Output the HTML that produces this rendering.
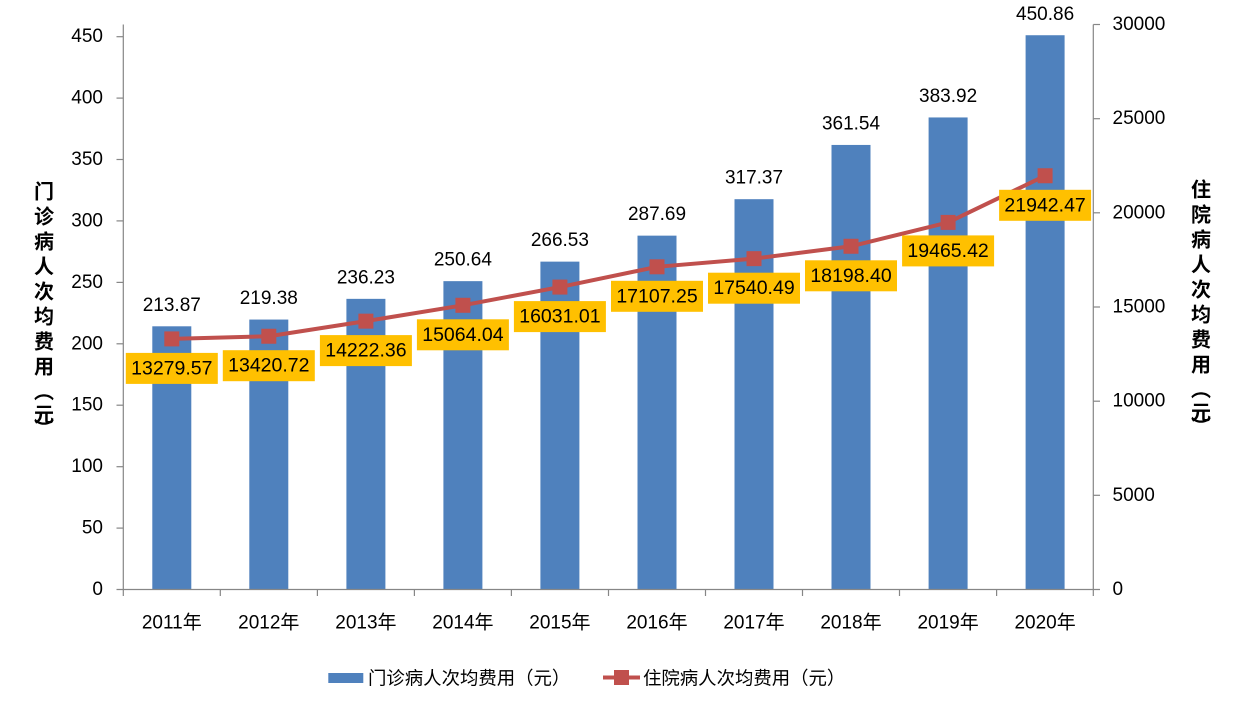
<!DOCTYPE html>
<html>
<head>
<meta charset="utf-8">
<style>
html,body{margin:0;padding:0;background:#fff;}
svg{display:block;}
.num{font-family:"Liberation Sans","Noto Sans CJK SC",sans-serif;font-size:19px;fill:#000;}
.cjk{font-family:"Liberation Sans","Noto Sans CJK SC",sans-serif;}
.ttl{font-family:"Noto Sans CJK SC","WenQuanYi Zen Hei",sans-serif;font-size:20px;font-weight:bold;fill:#000;}
.leg{font-family:"Noto Sans CJK SC","WenQuanYi Zen Hei",sans-serif;font-size:18.4px;fill:#000;}
</style>
</head>
<body>
<svg width="1242" height="711" viewBox="0 0 1242 711" xmlns="http://www.w3.org/2000/svg">
<rect width="1242" height="711" fill="#fff"/>

<!-- Bars -->
<g fill="#4F81BD">
<rect x="152.3" y="326.3" width="39" height="263.2"/>
<rect x="249.3" y="319.55" width="39" height="269.95"/>
<rect x="346.4" y="298.85" width="39" height="290.65"/>
<rect x="443.4" y="281.15" width="39" height="308.35"/>
<rect x="540.4" y="261.63" width="39" height="327.87"/>
<rect x="637.5" y="235.64" width="39" height="353.86"/>
<rect x="734.5" y="199.19" width="39" height="390.31"/>
<rect x="831.5" y="144.94" width="39" height="444.56"/>
<rect x="928.6" y="117.45" width="39" height="472.05"/>
<rect x="1025.6" y="35.23" width="39" height="554.27"/>
</g>

<!-- Axes -->
<g stroke="#868686" stroke-width="1.2" fill="none">
<line x1="123.3" y1="24.5" x2="123.3" y2="589.5"/>
<line x1="1093.3" y1="24.5" x2="1093.3" y2="589.5"/>
<line x1="116.5" y1="589.5" x2="1100" y2="589.5"/>
<line x1="116.5" y1="528.1" x2="123.3" y2="528.1"/>
<line x1="116.5" y1="466.7" x2="123.3" y2="466.7"/>
<line x1="116.5" y1="405.2" x2="123.3" y2="405.2"/>
<line x1="116.5" y1="343.8" x2="123.3" y2="343.8"/>
<line x1="116.5" y1="282.4" x2="123.3" y2="282.4"/>
<line x1="116.5" y1="220.9" x2="123.3" y2="220.9"/>
<line x1="116.5" y1="159.5" x2="123.3" y2="159.5"/>
<line x1="116.5" y1="98.1" x2="123.3" y2="98.1"/>
<line x1="116.5" y1="36.7" x2="123.3" y2="36.7"/>
<line x1="1093.3" y1="495.3" x2="1100" y2="495.3"/>
<line x1="1093.3" y1="401.2" x2="1100" y2="401.2"/>
<line x1="1093.3" y1="307.0" x2="1100" y2="307.0"/>
<line x1="1093.3" y1="212.8" x2="1100" y2="212.8"/>
<line x1="1093.3" y1="118.7" x2="1100" y2="118.7"/>
<line x1="1093.3" y1="24.5" x2="1100" y2="24.5"/>
<line x1="123.3" y1="589.5" x2="123.3" y2="596"/>
<line x1="220.3" y1="589.5" x2="220.3" y2="596"/>
<line x1="317.4" y1="589.5" x2="317.4" y2="596"/>
<line x1="414.4" y1="589.5" x2="414.4" y2="596"/>
<line x1="511.4" y1="589.5" x2="511.4" y2="596"/>
<line x1="608.5" y1="589.5" x2="608.5" y2="596"/>
<line x1="705.5" y1="589.5" x2="705.5" y2="596"/>
<line x1="802.5" y1="589.5" x2="802.5" y2="596"/>
<line x1="899.5" y1="589.5" x2="899.5" y2="596"/>
<line x1="996.6" y1="589.5" x2="996.6" y2="596"/>
<line x1="1093.3" y1="589.5" x2="1093.3" y2="596"/>
</g>

<!-- Left axis labels -->
<g class="num" text-anchor="end" dominant-baseline="central">
<text x="103" y="589.5">0</text>
<text x="103" y="528.1">50</text>
<text x="103" y="466.7">100</text>
<text x="103" y="405.2">150</text>
<text x="103" y="343.8">200</text>
<text x="103" y="282.4">250</text>
<text x="103" y="220.9">300</text>
<text x="103" y="159.5">350</text>
<text x="103" y="98.1">400</text>
<text x="103" y="36.7">450</text>
</g>

<!-- Right axis labels -->
<g class="num" text-anchor="start" dominant-baseline="central">
<text x="1112.5" y="589.5">0</text>
<text x="1112.5" y="495.3">5000</text>
<text x="1112.5" y="401.2">10000</text>
<text x="1112.5" y="307.0">15000</text>
<text x="1112.5" y="212.8">20000</text>
<text x="1112.5" y="118.7">25000</text>
<text x="1112.5" y="24.5">30000</text>
</g>

<!-- Category labels -->
<g class="num cjk" text-anchor="middle" dominant-baseline="central">
<text x="171.8" y="623">2011年</text>
<text x="268.8" y="623">2012年</text>
<text x="365.9" y="623">2013年</text>
<text x="462.9" y="623">2014年</text>
<text x="559.9" y="623">2015年</text>
<text x="657.0" y="623">2016年</text>
<text x="754.0" y="623">2017年</text>
<text x="851.0" y="623">2018年</text>
<text x="948.1" y="623">2019年</text>
<text x="1045.1" y="623">2020年</text>
</g>

<!-- Bar value labels -->
<g class="num" text-anchor="middle" dominant-baseline="central">
<text x="171.8" y="305.3">213.87</text>
<text x="268.8" y="298.5">219.38</text>
<text x="365.9" y="277.8">236.23</text>
<text x="462.9" y="260.1">250.64</text>
<text x="559.9" y="240.6">266.53</text>
<text x="657.0" y="214.6">287.69</text>
<text x="754.0" y="178.2">317.37</text>
<text x="851.0" y="123.9">361.54</text>
<text x="948.1" y="96.4">383.92</text>
<text x="1045.1" y="14.5">450.86</text>
</g>

<!-- Line -->
<polyline fill="none" stroke="#C0504D" stroke-width="4" stroke-linejoin="round"
points="171.8,338.9 268.8,336.24 365.9,321.15 462.9,305.29 559.9,287.08 657.0,266.81 754.0,258.65 851.0,246.26 948.1,222.4 1045.1,175.75"/>
<g fill="#C0504D">
<rect x="164.3" y="331.4" width="15" height="15"/>
<rect x="261.3" y="328.74" width="15" height="15"/>
<rect x="358.4" y="313.65" width="15" height="15"/>
<rect x="455.4" y="297.79" width="15" height="15"/>
<rect x="552.4" y="279.58" width="15" height="15"/>
<rect x="649.5" y="259.31" width="15" height="15"/>
<rect x="746.5" y="251.15" width="15" height="15"/>
<rect x="843.5" y="238.76" width="15" height="15"/>
<rect x="940.6" y="214.9" width="15" height="15"/>
<rect x="1037.6" y="168.25" width="15" height="15"/>
</g>

<!-- Line value labels (orange boxes) -->
<g fill="#FFC000">
<rect x="125.8" y="352.9" width="92" height="31"/>
<rect x="222.8" y="350.2" width="92" height="31"/>
<rect x="319.9" y="335.1" width="92" height="31"/>
<rect x="416.9" y="319.3" width="92" height="31"/>
<rect x="513.9" y="301.1" width="92" height="31"/>
<rect x="611.0" y="280.8" width="92" height="31"/>
<rect x="708.0" y="272.7" width="92" height="31"/>
<rect x="805.0" y="260.3" width="92" height="31"/>
<rect x="902.1" y="235.4" width="92" height="31"/>
<rect x="999.1" y="189.8" width="92" height="31"/>
</g>
<g class="num" text-anchor="middle" dominant-baseline="central" style="font-size:19.5px">
<text x="171.8" y="368.4">13279.57</text>
<text x="268.8" y="365.7">13420.72</text>
<text x="365.9" y="350.6">14222.36</text>
<text x="462.9" y="334.8">15064.04</text>
<text x="559.9" y="316.6">16031.01</text>
<text x="657.0" y="296.3">17107.25</text>
<text x="754.0" y="288.2">17540.49</text>
<text x="851.0" y="275.8">18198.40</text>
<text x="948.1" y="250.9">19465.42</text>
<text x="1045.1" y="205.3">21942.47</text>
</g>

<!-- Left axis title -->
<g class="ttl" text-anchor="middle" dominant-baseline="central">
<text x="44" y="190">门</text>
<text x="44" y="215">诊</text>
<text x="44" y="240">病</text>
<text x="44" y="265">人</text>
<text x="44" y="290">次</text>
<text x="44" y="315">均</text>
<text x="44" y="340">费</text>
<text x="44" y="365">用</text>
<text x="44" y="390">︵</text>
<text x="44" y="413">元</text>
<text x="44" y="427">︶</text>
</g>

<!-- Right axis title -->
<g class="ttl" text-anchor="middle" dominant-baseline="central">
<text x="1201" y="188">住</text>
<text x="1201" y="213">院</text>
<text x="1201" y="238">病</text>
<text x="1201" y="263">人</text>
<text x="1201" y="288">次</text>
<text x="1201" y="313">均</text>
<text x="1201" y="338">费</text>
<text x="1201" y="363">用</text>
<text x="1201" y="388">︵</text>
<text x="1201" y="411">元</text>
<text x="1201" y="425">︶</text>
</g>

<!-- Legend -->
<rect x="328.3" y="673" width="35" height="10" fill="#4F81BD"/>
<text class="leg" x="368" y="677.5" dominant-baseline="central">门诊病人次均费用（元）</text>
<line x1="603" y1="677.5" x2="640" y2="677.5" stroke="#C0504D" stroke-width="4"/>
<rect x="614" y="670" width="15" height="15" fill="#C0504D"/>
<text class="leg" x="643" y="677.5" dominant-baseline="central">住院病人次均费用（元）</text>
</svg>
</body>
</html>
